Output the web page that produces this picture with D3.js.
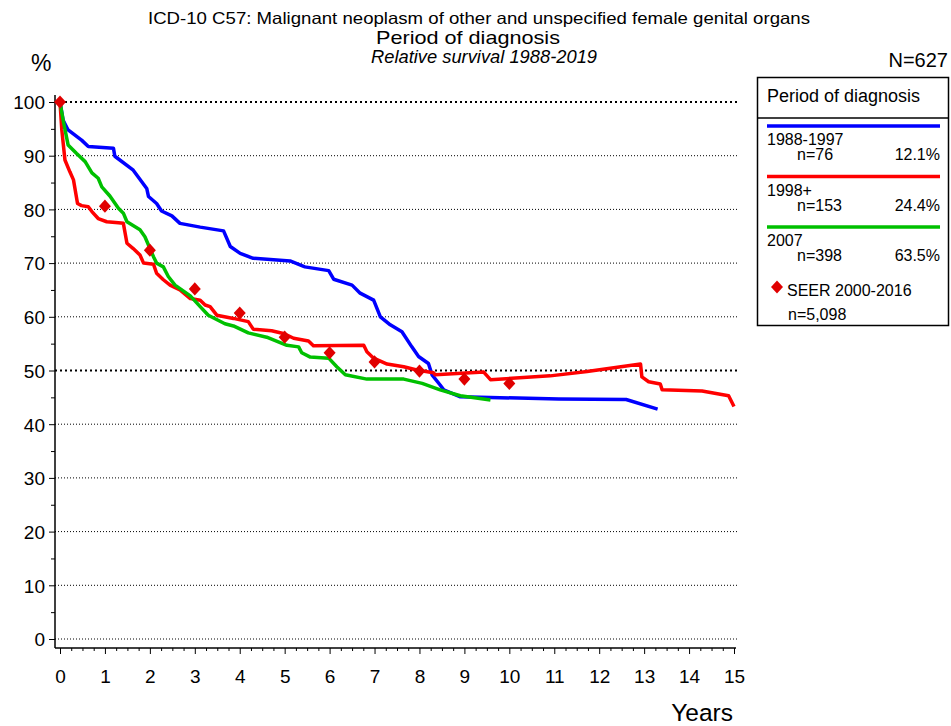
<!DOCTYPE html>
<html>
<head>
<meta charset="utf-8">
<script src="https://cdn.jsdelivr.net/npm/d3@7"></script>
<style>
  body { margin: 0; background: #fff; }
  svg text { font-family: "Liberation Sans", Arial, sans-serif; fill: #000; }
</style>
</head>
<body>
<div id="chart"></div>
<script>
// survival curves: [years, percent]
const period1 = [[0,100],[0.07,96.6],[0.18,94.8],[0.48,92.9],[0.63,91.7],[1.19,91.4],[1.22,89.9],[1.63,87.3],[1.93,83.9],[1.97,82.4],[2.15,81.1],[2.26,79.7],[2.49,78.8],[2.67,77.4],[3.12,76.7],[3.64,76.0],[3.79,73.1],[4.01,71.8],[4.3,70.9],[5.12,70.4],[5.45,69.3],[5.98,68.6],[6.09,67.0],[6.5,65.9],[6.68,64.4],[6.98,63.1],[7.13,60.0],[7.35,58.5],[7.61,57.2],[7.83,54.4],[7.98,52.6],[8.2,51.3],[8.28,49.2],[8.46,47.3],[8.54,46.4],[8.91,45.1],[11.1,44.7],[12.6,44.6],[13.3,42.8]];
const period2 = [[0,100],[0.04,94.8],[0.11,89.2],[0.22,87.0],[0.3,85.5],[0.39,81.1],[0.48,80.7],[0.63,80.5],[0.71,79.6],[0.85,78.3],[1.04,77.7],[1.3,77.5],[1.41,77.4],[1.49,73.7],[1.63,72.7],[1.78,71.5],[1.86,70.0],[2.08,69.8],[2.15,68.1],[2.3,66.9],[2.45,65.9],[2.67,65.0],[2.9,63.4],[3.12,63.1],[3.23,62.2],[3.34,61.9],[3.49,60.3],[3.86,59.7],[4.19,59.1],[4.3,57.7],[4.71,57.4],[4.97,56.9],[5.2,56.0],[5.53,55.5],[5.64,54.6],[6.76,54.7],[6.83,53.5],[6.98,52.3],[7.28,51.2],[7.65,50.7],[7.94,50.1],[8.31,49.6],[8.35,49.2],[9.43,49.7],[9.58,48.3],[10.91,49.0],[11.73,49.8],[12.92,51.2],[12.95,48.8],[13.1,47.9],[13.36,47.5],[13.4,46.4],[14.29,46.2],[14.88,45.3],[15.0,43.3]];
const period3 = [[0,100],[0.07,96.6],[0.18,92.0],[0.37,90.4],[0.56,88.9],[0.71,86.8],[0.85,85.8],[0.93,84.2],[1.11,82.5],[1.3,80.2],[1.41,79.3],[1.49,77.7],[1.78,76.2],[1.89,74.9],[2.08,71.2],[2.15,70.0],[2.3,69.3],[2.41,67.5],[2.56,65.9],[2.9,63.9],[3.12,61.9],[3.3,60.3],[3.67,58.7],[3.86,58.3],[4.19,57.0],[4.6,56.2],[4.9,55.2],[5.05,54.7],[5.31,54.4],[5.38,53.3],[5.57,52.5],[5.98,52.3],[6.16,50.7],[6.35,49.2],[6.83,48.4],[7.65,48.4],[8.06,47.6],[8.46,46.4],[8.91,45.3],[9.58,44.5]];
const seerYears = [0,1,2,3,4,5,6,7,8,9,10];
const seerValues = [100,80.6,72.4,65.2,60.7,56.2,53.3,51.6,49.9,48.4,47.6];

const yTicks = [0,10,20,30,40,50,60,70,80,90,100];
const xTicks = d3.range(0, 16);

const seriesNames = ["1988-1997", "1998+", "2007"];
const seriesN = ["n=76", "n=153", "n=398"];
const seriesPct = ["12.1%", "24.4%", "63.5%"];
const seriesColors = ["#0000ff", "#ff0000", "#00c000"];
const seriesData = [period1, period2, period3];

const W = 951, H = 726;
const svg = d3.select("#chart").append("svg")
    .attr("width", W)
    .attr("height", H);

const x = d3.scaleLinear().domain([0, 15]).range([60, 734]);
const y = d3.scaleLinear().domain([0, 100]).range([639, 102]);

// titles (stretched a bit to match the original's wider glyphs)
svg.append("text").attr("x", 479).attr("y", 23.5).attr("text-anchor", "middle")
    .style("font-size", "16.5px")
    .attr("textLength", 662).attr("lengthAdjust", "spacingAndGlyphs")
    .text("ICD-10 C57: Malignant neoplasm of other and unspecified female genital organs");
svg.append("text").attr("x", 468).attr("y", 44).attr("text-anchor", "middle")
    .style("font-size", "19px")
    .attr("textLength", 184).attr("lengthAdjust", "spacingAndGlyphs")
    .text("Period of diagnosis");
svg.append("text").attr("x", 484).attr("y", 63).attr("text-anchor", "middle")
    .style("font-size", "19px").style("font-style", "italic")
    .attr("textLength", 226).attr("lengthAdjust", "spacingAndGlyphs")
    .text("Relative survival 1988-2019");
svg.append("text").attr("x", 31).attr("y", 71).style("font-size", "23px").text("%");
svg.append("text").attr("x", 948).attr("y", 67).attr("text-anchor", "end")
    .style("font-size", "20px").text("N=627");

// gridlines
svg.append("g").selectAll("line")
    .data(yTicks.filter(d => d > 0))
    .enter().append("line")
    .attr("x1", 55).attr("x2", 737)
    .attr("y1", d => y(d)).attr("y2", d => y(d))
    .attr("stroke", "#000")
    .attr("stroke-width", d => (d === 100 || d === 50) ? 2 : 1)
    .attr("stroke-dasharray", d => (d === 100 || d === 50) ? "2,3" : "1,2");
svg.append("line").attr("x1", 55).attr("x2", 737).attr("y1", y(0)).attr("y2", y(0))
    .attr("stroke", "#000").attr("stroke-dasharray", "1,2");

// y axis
const yAxis = svg.append("g").attr("transform", "translate(55,0)")
    .call(d3.axisLeft(y).tickValues(yTicks).tickSize(6).tickPadding(4));
yAxis.select(".domain").remove();
yAxis.selectAll("text").style("font-size", "19px").attr("dy", "0.36em");
svg.append("g").attr("transform", "translate(55,0)")
    .call(d3.axisLeft(y).tickValues(d3.range(5, 100, 10)).tickSize(4).tickFormat(""))
    .select(".domain").remove();
svg.append("line").attr("x1", 55).attr("x2", 55).attr("y1", 95).attr("y2", 648)
    .attr("stroke", "#000").attr("stroke-width", 1.5);

// x axis
const xAxis = svg.append("g").attr("transform", "translate(0,648)")
    .call(d3.axisBottom(x).tickValues(xTicks).tickSize(6).tickPadding(16));
xAxis.select(".domain").remove();
xAxis.selectAll("text").style("font-size", "19px");
svg.append("g").attr("transform", "translate(0,648)")
    .call(d3.axisBottom(x).tickValues(d3.range(0, 15, 0.25).filter(d => d % 1 !== 0)).tickSize(3).tickFormat(""))
    .select(".domain").remove();
svg.append("line").attr("x1", 55).attr("x2", 736).attr("y1", 648).attr("y2", 648)
    .attr("stroke", "#000").attr("stroke-width", 1.5);
svg.append("text").attr("x", 733).attr("y", 721).attr("text-anchor", "end")
    .style("font-size", "24.5px").text("Years");

// curves
const line = d3.line().x(d => x(d[0])).y(d => y(d[1]));
seriesData.forEach((s, i) => {
    svg.append("path")
        .datum(s)
        .attr("fill", "none")
        .attr("stroke", seriesColors[i])
        .attr("stroke-width", 3.5)
        .attr("stroke-linejoin", "round")
        .attr("d", line);
});

// SEER diamonds (a squashed rotated square)
const diamond = "M0,-6.6L6,0L0,6.6L-6,0Z";
svg.append("g").selectAll("path")
    .data(seerYears)
    .enter().append("path")
    .attr("d", diamond)
    .attr("transform", (d, i) => `translate(${x(d)},${y(seerValues[i])})`)
    .attr("fill", "#e00000");

// legend
const legend = svg.append("g");
legend.append("rect").attr("x", 757.5).attr("y", 77.5).attr("width", 191).attr("height", 248)
    .attr("fill", "#fff").attr("stroke", "#000").attr("stroke-width", 1.5);
legend.append("line").attr("x1", 757).attr("x2", 949).attr("y1", 118).attr("y2", 118)
    .attr("stroke", "#000").attr("stroke-width", 1.5);
legend.append("text").attr("x", 767).attr("y", 102).style("font-size", "18px").text("Period of diagnosis");

seriesNames.forEach((name, i) => {
    const top = 126 + i * 50.5;
    legend.append("line").attr("x1", 767).attr("x2", 940).attr("y1", top).attr("y2", top)
        .attr("stroke", seriesColors[i]).attr("stroke-width", 3.5);
    legend.append("text").attr("x", 767).attr("y", top + 19).style("font-size", "16px").text(name);
    legend.append("text").attr("x", 797).attr("y", top + 34).style("font-size", "16px").text(seriesN[i]);
    legend.append("text").attr("x", 940).attr("y", top + 34).attr("text-anchor", "end")
        .style("font-size", "16px").text(seriesPct[i]);
});
legend.append("path").attr("d", diamond)
    .attr("transform", "translate(777,287)").attr("fill", "#e00000");
legend.append("text").attr("x", 787).attr("y", 296).style("font-size", "16px").text("SEER 2000-2016");
legend.append("text").attr("x", 788).attr("y", 320).style("font-size", "16px").text("n=5,098");
</script>
</body>
</html>
